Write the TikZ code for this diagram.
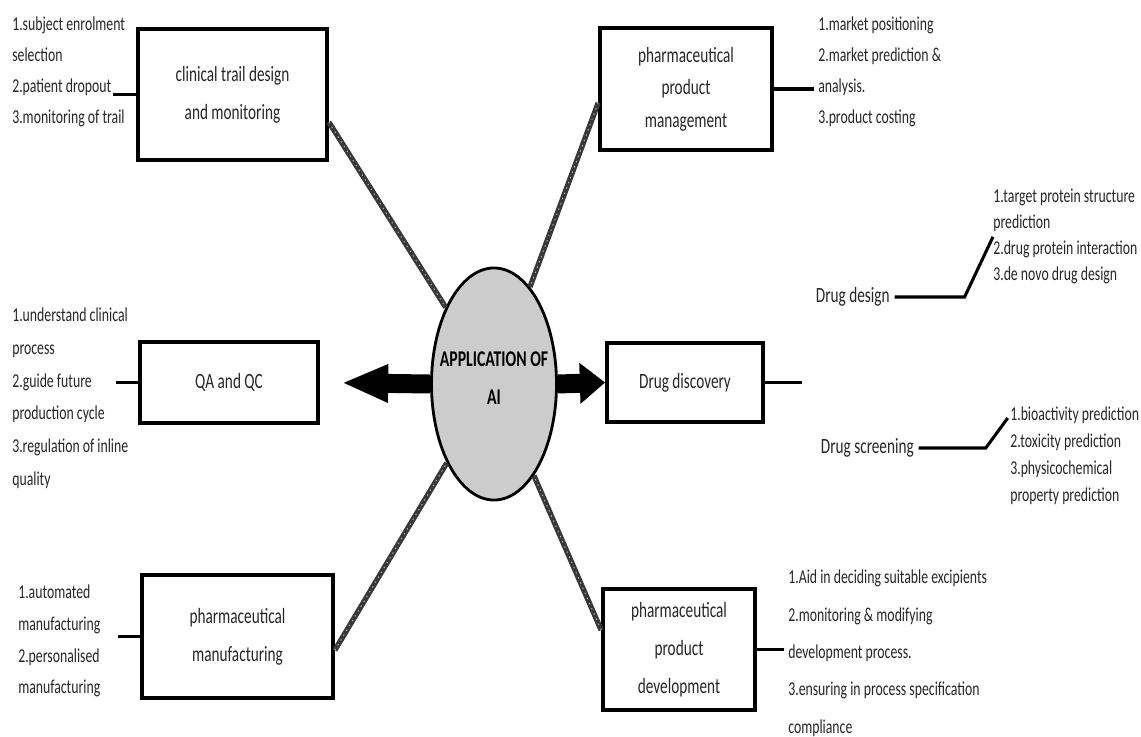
\documentclass[tikz,border=0pt]{standalone}
\usepackage{fontspec}
\setmainfont{Carlito}[FakeStretch=0.7]
\usetikzlibrary{shapes.geometric,arrows.meta}

\tikzset{
    box/.style={draw, line width=2.6pt, align=center, text=black!85, font=\fontsize{15.5}{27}\selectfont},
    note/.style={anchor=north west, inner sep=0pt, align=left, text=black!85, font=\fontsize{14}{22}\selectfont},
    branch/.style={anchor=west, text=black!85, font=\fontsize{15.5}{18}\selectfont},
    tick/.style={line width=2.2pt},
    spoke/.style={line width=3.8pt, draw=black!78, postaction={draw=white!75!black, line width=0.6pt, dash pattern=on 1pt off 3pt}},
    hub/.style={ellipse, draw, line width=2pt, fill=gray!40, minimum width=3.125cm, minimum height=5.8cm},
    fatright/.style={line width=13.5pt, -{Triangle[length=18pt,width=28pt]}},
    fatleft/.style={line width=13.5pt, shorten >=15.6pt, -{Triangle[length=33pt,width=25pt]}}
}

\begin{document}
\begin{tikzpicture}[x=0.025cm,y=-0.025cm]
                                \useasboundingbox (0,0) rectangle (1141,736);
                                \node[hub] (ai) at (494,384) {};
                                \node[align=center, font=\bfseries\fontsize{16}{27.5}\selectfont] (aitxt) at (494,378) {APPLICATION OF\\AI};
                                \node[box, minimum width=4.725cm, minimum height=3.275cm] (ctd) at (232.5,94.5) {clinical trail design\\and monitoring};
                                \node[box, minimum width=4.3cm, minimum height=3.05cm, font=\fontsize{15.5}{23}\selectfont] (ppm) at (686,89) {pharmaceutical\\product\\management};
                                \node[box, minimum width=4.45cm, minimum height=2.025cm] (qa) at (229,382.5) {QA and QC};
                                \node[box, minimum width=3.9cm, minimum height=1.975cm] (dd) at (685,382.5) {Drug discovery};
                                \node[box, minimum width=4.775cm, minimum height=3.075cm] (pm) at (237.5,636.5) {pharmaceutical\\manufacturing};
                                \node[box, minimum width=3.8cm, minimum height=3.025cm] (ppd) at (679,649.5) {pharmaceutical\\product\\development};
                                \node[note] (ctdnote) at (12,17) {1.subject enrolment\\selection\\2.patient dropout\\3.monitoring of trail};
                                \node[note] (ppmnote) at (818,17) {1.market positioning\\2.market prediction \&\\analysis.\\3.product costing};
                                \node[note, font=\fontsize{14}{18.5}\selectfont] (ddesnote) at (993,189) {1.target protein structure\\prediction\\2.drug protein interaction\\3.de novo drug design};
                                \node[note, font=\fontsize{14}{19}\selectfont] (dscrnote) at (1010,407) {1.bioactivity prediction\\2.toxicity prediction\\3.physicochemical\\property prediction};
                                \node[note, font=\fontsize{14}{23.2}\selectfont] (qanote) at (12,308) {1.understand clinical\\process\\2.guide future\\production cycle\\3.regulation of inline\\quality};
                                \node[note, font=\fontsize{14}{22.5}\selectfont] (pmnote) at (18,585) {1.automated\\manufacturing\\2.personalised\\manufacturing};
                                \node[note, font=\fontsize{14}{26.5}\selectfont] (ppdnote) at (788,570) {1.Aid in deciding suitable excipients\\2.monitoring \& modifying\\development process.\\3.ensuring in process specification\\compliance};
                                \node[branch] (ddes) at (811,297) {Drug design};
                                \node[branch] (dscr) at (816,448) {Drug screening};
                                \draw[spoke] (ctd.-16) -- (ai);
                                \draw[spoke] (ppm.189) -- (ai);
                                \draw[spoke] (pm.-8) -- (ai);
                                \draw[spoke] (ppd.166) -- (ai);
                                \draw[fatright] (ai.east) -- (dd.west);
                                \draw[fatleft] (ai.west) -- (qa.east);
                                \draw[tick] (ctd.west) -- ++(-23,0);
                                \draw[tick] (ppm.east) -- ++(40,0);
                                \draw[tick] (qa.west) -- ++(-22,0);
                                \draw[tick] (pm.west) -- ++(-22,0);
                                \draw[tick] (ppd.east) -- ++(27,0);
                                \draw[tick] (dd.east) -- ++(37,0);
                                \draw[tick] (ddes.east) -- ++(70,0) -- (ddesnote.west);
                                \draw[tick] (dscr.east) -- ++(67,0) -- ++(22,-30);
                            \end{tikzpicture}
\end{document}
